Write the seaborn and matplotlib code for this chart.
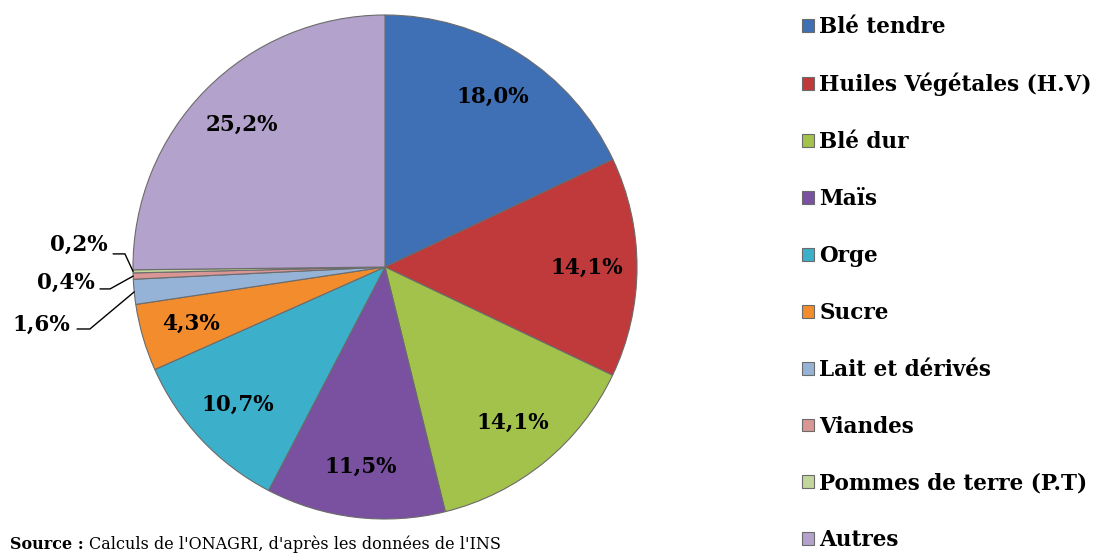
import numpy as np
import matplotlib
matplotlib.use("Agg")
import matplotlib.pyplot as plt
import seaborn as sns

# données
produits = ['Blé tendre', 'Huiles Végétales (H.V)', 'Blé dur', 'Maïs', 'Orge',
            'Sucre', 'Lait et dérivés', 'Viandes', 'Pommes de terre (P.T)', 'Autres']
parts = [18.0, 14.1, 14.1, 11.5, 10.7, 4.3, 1.6, 0.4, 0.2, 25.2]
couleurs = ['#3f6fb4', '#c0393b', '#a3c24c', '#7a51a0', '#3cafcb',
            '#f28c2c', '#95b3d7', '#d99694', '#c3d69b', '#b3a2cb']

sns.set_theme(style="white")
plt.rcParams['font.family'] = ['DejaVu Serif']
plt.rcParams['text.color'] = 'black'

fig = plt.figure(figsize=(10.99, 5.53), dpi=100)
ax = fig.add_axes([133 / 1099, 34 / 553, 504 / 1099, 504 / 553])

def fmt(v):
    return f"{v:.1f}".replace('.', ',') + '%'

wedges, _ = ax.pie(parts, colors=couleurs, startangle=90, counterclock=False,
                   radius=1, wedgeprops=dict(edgecolor='#6b6b6b', linewidth=0.8))
ax.set_xlim(-1, 1)
ax.set_ylim(-1, 1)
ax.set_aspect('equal')

# étiquettes dans les secteurs / à l'extérieur pour les petits
total = sum(parts)
cum = 0.0
petits = {}
for name, v in zip(produits, parts):
    mid = 90 - 360 * (cum + v / 2) / total
    cum += v
    a = np.deg2rad(mid)
    if v >= 4:
        ax.text(0.8 * np.cos(a), 0.8 * np.sin(a), fmt(v), ha='center', va='center',
                fontsize=15.5, fontweight='bold', color='black')
    else:
        petits[name] = (np.cos(a), np.sin(a), v)

# positions des étiquettes externes (texte, départ du trait, coude)
ext = {
    'Pommes de terre (P.T)': ((-1.099, 0.087), (-1.079, 0.052), (-1.032, 0.052)),
    'Viandes': ((-1.151, -0.063), (-1.131, -0.087), (-1.091, -0.087)),
    'Lait et dérivés': ((-1.25, -0.23), (-1.222, -0.246), (-1.171, -0.246)),
}
for name, (tp, p0, p1) in ext.items():
    x, y, v = petits[name]
    ax.text(tp[0], tp[1], fmt(v), ha='right', va='center', fontsize=15.5,
            fontweight='bold', color='black', clip_on=False)
    ax.plot([p0[0], p1[0], x], [p0[1], p1[1], y], color='black', lw=1,
            clip_on=False)

leg = fig.legend(wedges, produits, loc='upper left',
                 bbox_to_anchor=(802 / 1099, 1 - 16 / 553), frameon=False,
                 borderaxespad=0, borderpad=0, handlelength=0.55, handleheight=0.55,
                 handletextpad=0.25, labelspacing=1.62,
                 prop=dict(family='DejaVu Serif', weight='bold', size=15.5))
for t in leg.get_texts():
    t.set_color('black')

# source
t1 = fig.text(10 / 1099, 1 - 549 / 553, 'Source :', fontsize=11.5, fontweight='bold',
              va='baseline', ha='left', color='black')
fig.canvas.draw()
bb = t1.get_window_extent()
fig.text((bb.x1 + 5) / 1099, 1 - 549 / 553,
         "Calculs de l'ONAGRI, d'après les données de l'INS",
         fontsize=11.5, va='baseline', ha='left', color='black')

fig.savefig('out.png', dpi=100)
